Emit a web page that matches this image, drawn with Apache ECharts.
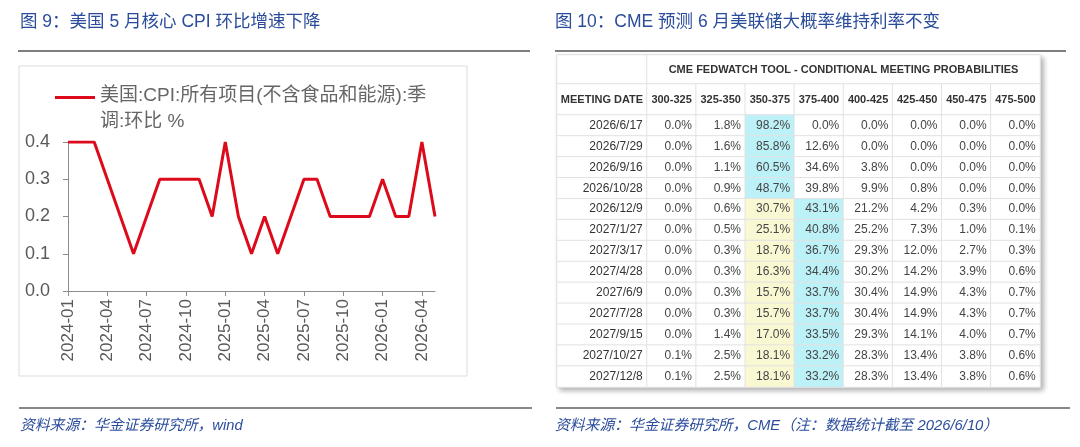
<!DOCTYPE html>
<html lang="zh">
<head>
    <meta charset="UTF-8">
    <script src="https://cdn.jsdelivr.net/npm/echarts@6/dist/echarts.min.js"></script>
    <title>CPI & FedWatch</title>
    <style>
        html, body { margin: 0; padding: 0; background: #fff; }
    </style>
</head>
<body>
<div id="main" style="width: 1080px; height: 447px;"></div>
<script>

    // ---- left chart data ----
    var months = ['2024-01','2024-02','2024-03','2024-04','2024-05','2024-06','2024-07','2024-08','2024-09','2024-10','2024-11','2024-12',
        '2025-01','2025-02','2025-03','2025-04','2025-05','2025-06','2025-07','2025-08','2025-09','2025-10','2025-11','2025-12',
        '2026-01','2026-02','2026-03','2026-04','2026-05'];
    var coreCpiMoM = [0.4,0.4,0.4,0.3,0.2,0.1,0.2,0.3,0.3,0.3,0.3,0.2,
        0.4,0.2,0.1,0.2,0.1,0.2,0.3,0.3,0.2,0.2,0.2,0.2,
        0.3,0.2,0.2,0.4,0.2];
    var seriesName = '美国:CPI:所有项目(不含食品和能源):季调:环比 %';

    // ---- right table data ----
    var tableTitle = 'CME FEDWATCH TOOL - CONDITIONAL MEETING PROBABILITIES';
    var dateHeader = 'MEETING DATE';
    var rateRanges = ['300-325','325-350','350-375','375-400','400-425','425-450','450-475','475-500'];
    var meetingDates = ['2026/6/17','2026/7/29','2026/9/16','2026/10/28','2026/12/9','2027/1/27','2027/3/17',
        '2027/4/28','2027/6/9','2027/7/28','2027/9/15','2027/10/27','2027/12/8'];
    var probRows = [
        [0.0, 1.8, 98.2,  0.0,  0.0,  0.0, 0.0, 0.0],
        [0.0, 1.6, 85.8, 12.6,  0.0,  0.0, 0.0, 0.0],
        [0.0, 1.1, 60.5, 34.6,  3.8,  0.0, 0.0, 0.0],
        [0.0, 0.9, 48.7, 39.8,  9.9,  0.8, 0.0, 0.0],
        [0.0, 0.6, 30.7, 43.1, 21.2,  4.2, 0.3, 0.0],
        [0.0, 0.5, 25.1, 40.8, 25.2,  7.3, 1.0, 0.1],
        [0.0, 0.3, 18.7, 36.7, 29.3, 12.0, 2.7, 0.3],
        [0.0, 0.3, 16.3, 34.4, 30.2, 14.2, 3.9, 0.6],
        [0.0, 0.3, 15.7, 33.7, 30.4, 14.9, 4.3, 0.7],
        [0.0, 0.3, 15.7, 33.7, 30.4, 14.9, 4.3, 0.7],
        [0.0, 1.4, 17.0, 33.5, 29.3, 14.1, 4.0, 0.7],
        [0.1, 2.5, 18.1, 33.2, 28.3, 13.4, 3.8, 0.6],
        [0.1, 2.5, 18.1, 33.2, 28.3, 13.4, 3.8, 0.6]
    ];
    var currentRange = '350-375';

    var FONT = 'Liberation Sans, Arial, Noto Sans CJK SC, sans-serif';
    var BLUE = '#2A4C9B';
    var CYAN = '#BDF1F8';
    var YELLOW = '#FAF8D3';
    var CELL_LINE = '#e2e2e2';

    // table layout
    var T = { left: 557, mid: 647, right: 1040, top: 55, h1: 84, h2: 115, bottom: 387 };

    var myChart = echarts.init(document.getElementById('main'));

    // build cells
    var probCells = [];
    for (var r = 0; r < probRows.length; r++) {
        var row = probRows[r];
        var maxV = Math.max.apply(null, row);
        for (var c = 0; c < row.length; c++) {
            var fill = '#ffffff';
            if (row[c] === maxV) fill = CYAN;
            else if (rateRanges[c] === currentRange) fill = YELLOW;
            probCells.push({ value: [c, r, row[c]], itemStyle: { color: fill } });
        }
    }
    var dateCells = meetingDates.map(function (d, i) { return { name: d, value: [0, i, 0] }; });
    var rangeCells = rateRanges.map(function (d, i) { return { name: d, value: [i, 0, 0] }; });

    function hiddenCat(gridIndex, data, inverse) {
        return { type: 'category', gridIndex: gridIndex, data: data, show: false, inverse: !!inverse };
    }

    function cellSeries(x, y, data, label) {
        return {
            type: 'heatmap',
            xAxisIndex: x, yAxisIndex: y,
            data: data,
            silent: true,
            itemStyle: { color: '#ffffff', borderColor: CELL_LINE, borderWidth: 1 },
            label: Object.assign({ show: true, fontFamily: FONT, color: '#333' }, label),
            emphasis: { disabled: true }
        };
    }

    option = {
        animation: false,
        backgroundColor: '#ffffff',
        title: [
            { text: '图 9：美国 5 月核心 CPI 环比增速下降', left: 15, top: 8,
                textStyle: { fontFamily: FONT, fontSize: 17.5, fontWeight: 'normal', color: BLUE } },
            { text: '图 10：CME 预测 6 月美联储大概率维持利率不变', left: 550, top: 8,
                textStyle: { fontFamily: FONT, fontSize: 17.5, fontWeight: 'normal', color: BLUE } },
            { text: '资料来源：华金证券研究所，wind', left: 15, top: 413,
                textStyle: { fontFamily: FONT, fontSize: 14.8, fontWeight: 'normal', fontStyle: 'italic', color: BLUE } },
            { text: '资料来源：华金证券研究所，CME（注：数据统计截至 2026/6/10）', left: 550, top: 413,
                textStyle: { fontFamily: FONT, fontSize: 14.8, fontWeight: 'normal', fontStyle: 'italic', color: BLUE } }
        ],
        graphic: [
            { type: 'line', shape: { x1: 18, y1: 51, x2: 530, y2: 51 }, style: { stroke: '#555', lineWidth: 1.5 } },
            { type: 'line', shape: { x1: 555, y1: 51, x2: 1066, y2: 51 }, style: { stroke: '#555', lineWidth: 1.5 } },
            { type: 'line', shape: { x1: 19, y1: 408, x2: 532, y2: 408 }, style: { stroke: '#888', lineWidth: 2 } },
            { type: 'line', shape: { x1: 556, y1: 408, x2: 1070, y2: 408 }, style: { stroke: '#888', lineWidth: 2 } },
            { type: 'rect', shape: { x: 19, y: 66, width: 448, height: 310 }, style: { fill: 'none', stroke: '#dcdcdc', lineWidth: 1 }, z: -1 },
            { type: 'rect', shape: { x: T.left, y: T.top, width: T.right - T.left, height: T.bottom - T.top },
                style: { fill: '#fff', stroke: '#d6d6d6', lineWidth: 1, shadowBlur: 5, shadowOffsetX: 3, shadowOffsetY: 3, shadowColor: 'rgba(0,0,0,0.3)' }, z: -1 }
        ],
        legend: {
            left: 50, top: 78,
            data: [seriesName],
            // line drawn at the top of a tall icon box so it sits beside the first text line
            icon: 'path://M0,0H40V3H0Z M0,25.9H0.05V26H0Z',
            itemWidth: 40, itemHeight: 26, itemGap: 10,
            formatter: function (name) { return name.replace('季调', '季\n调'); },
            textStyle: { fontFamily: FONT, fontSize: 19, color: '#666', lineHeight: 26 }
        },
        grid: [
            { left: 68, top: 142, width: 367, height: 149 },
            { left: T.left, top: T.top, width: T.mid - T.left, height: T.h1 - T.top },
            { left: T.mid, top: T.top, width: T.right - T.mid, height: T.h1 - T.top },
            { left: T.left, top: T.h1, width: T.mid - T.left, height: T.h2 - T.h1 },
            { left: T.mid, top: T.h1, width: T.right - T.mid, height: T.h2 - T.h1 },
            { left: T.left, top: T.h2, width: T.mid - T.left, height: T.bottom - T.h2 },
            { left: T.mid, top: T.h2, width: T.right - T.mid, height: T.bottom - T.h2 }
        ],
        xAxis: [
            {
                type: 'category', gridIndex: 0, data: months, boundaryGap: false,
                axisLine: { lineStyle: { color: '#8c8c8c' } },
                axisTick: { interval: 2, length: 5, lineStyle: { color: '#8c8c8c' } },
                axisLabel: { interval: 2, rotate: 90, fontSize: 17, color: '#595959', fontFamily: FONT, margin: 8 }
            },
            hiddenCat(1, ['a']),
            hiddenCat(2, ['a']),
            hiddenCat(3, ['a']),
            hiddenCat(4, rateRanges),
            hiddenCat(5, ['a']),
            hiddenCat(6, rateRanges)
        ],
        yAxis: [
            {
                type: 'value', gridIndex: 0, min: 0, max: 0.4, interval: 0.1,
                axisLine: { show: true, lineStyle: { color: '#8c8c8c' } },
                axisTick: { show: true, length: 5, lineStyle: { color: '#8c8c8c' } },
                splitLine: { show: false },
                axisLabel: { fontSize: 18, color: '#595959', fontFamily: FONT, margin: 18,
                    formatter: function (v) { return v.toFixed(1); } }
            },
            hiddenCat(1, ['a']),
            hiddenCat(2, ['a']),
            hiddenCat(3, ['a']),
            hiddenCat(4, ['a']),
            hiddenCat(5, meetingDates, true),
            hiddenCat(6, meetingDates, true)
        ],
        series: [
            {
                name: seriesName, type: 'line', xAxisIndex: 0, yAxisIndex: 0,
                data: coreCpiMoM, symbol: 'none',
                lineStyle: { color: '#DC0A1A', width: 3 },
                itemStyle: { color: '#DC0A1A' }
            },
            cellSeries(1, 1, [{ name: '', value: [0, 0, 0] }], { formatter: '' }),
            cellSeries(2, 2, [{ name: tableTitle, value: [0, 0, 0] }],
                { formatter: '{b}', fontSize: 11, fontWeight: 'bold' }),
            cellSeries(3, 3, [{ name: dateHeader, value: [0, 0, 0] }],
                { formatter: '{b}', fontSize: 11, fontWeight: 'bold' }),
            cellSeries(4, 4, rangeCells, { formatter: '{b}', fontSize: 11, fontWeight: 'bold' }),
            cellSeries(5, 5, dateCells, { formatter: '{b}', fontSize: 12, position: 'insideRight', distance: 5 }),
            cellSeries(6, 6, probCells, {
                fontSize: 12, color: '#444', position: 'insideRight', distance: 5,
                formatter: function (p) { return p.value[2].toFixed(1) + '%'; }
            })
        ]
    };

    myChart.setOption(option);

</script>
</body>
</html>
